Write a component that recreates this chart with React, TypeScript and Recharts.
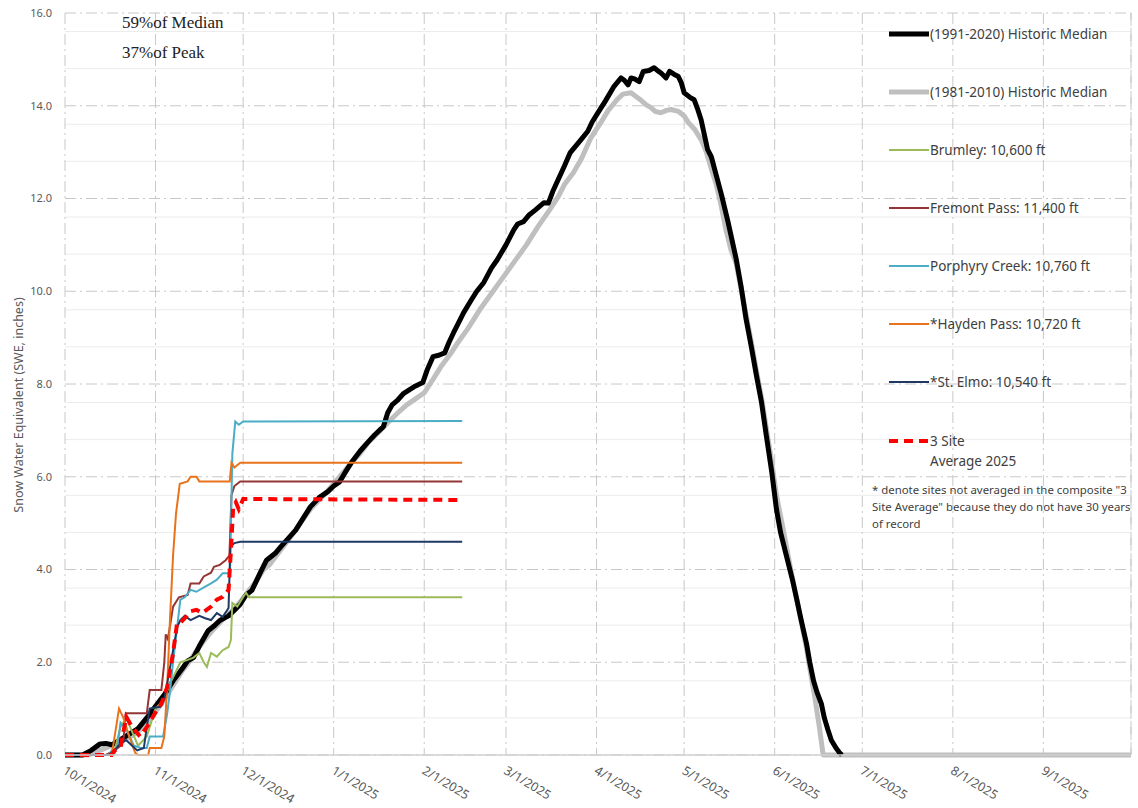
import React from 'react';
import {
  LineChart, Line, XAxis, YAxis, CartesianGrid, ReferenceLine,
} from 'recharts';

// x = days since 10/1/2024 (water year), y = SWE inches
const MONTH_DAYS = [0, 31, 61, 92, 123, 151, 182, 212, 243, 273, 304, 335];
const MONTH_LABELS = [
  '10/1/2024', '11/1/2024', '12/1/2024', '1/1/2025', '2/1/2025', '3/1/2025',
  '4/1/2025', '5/1/2025', '6/1/2025', '7/1/2025', '8/1/2025', '9/1/2025',
];
const Y_TICKS = [0, 2, 4, 6, 8, 10, 12, 14, 16];

const MEDIAN_1991_2020: [number, number][] = [
  [0, 0], [6, 0], [9, 0.1], [12, 0.24], [14, 0.25], [16, 0.22], [19, 0.33], [22, 0.45],
  [25, 0.57], [28, 0.8], [31, 1.05], [34, 1.3], [37, 1.6], [40, 1.85], [42, 2.03], [44, 2.1],
  [46, 2.35], [49, 2.68], [51, 2.78], [53, 2.9], [56, 3.0], [58, 3.12], [60, 3.25], [62, 3.45],
  [64, 3.55], [67, 3.95], [69, 4.2], [72, 4.35], [74, 4.5], [76, 4.64], [79, 4.85], [82, 5.15],
  [84, 5.35], [87, 5.55], [90, 5.68], [92, 5.8], [94, 5.89], [96, 6.1], [98, 6.3], [101, 6.55],
  [103.5, 6.73], [106, 6.9], [109, 7.08], [110.5, 7.38], [112, 7.55], [114, 7.66], [116, 7.8],
  [118, 7.88], [119.5, 7.94], [122.5, 8.03], [124, 8.3], [126, 8.59], [128, 8.62], [130, 8.67],
  [131.5, 8.9], [133, 9.1], [135, 9.35], [136.5, 9.54], [139, 9.8], [141, 10.0], [143.4, 10.19],
  [146, 10.5], [148, 10.68], [151, 11.0], [153.7, 11.33], [155, 11.45], [157, 11.5], [159, 11.65],
  [161, 11.75], [164, 11.91], [165.5, 11.9], [167, 12.15], [168.8, 12.4], [171, 12.7], [173, 12.99],
  [176.7, 13.27], [179, 13.45], [180.5, 13.65], [182.5, 13.85], [185, 14.1], [188, 14.42],
  [190.4, 14.6], [191.5, 14.55], [192.8, 14.45], [193.8, 14.6], [195, 14.58], [196.6, 14.52],
  [198, 14.74], [200, 14.76], [201.7, 14.82], [203, 14.75], [204, 14.71], [205.8, 14.6],
  [207, 14.74], [208.5, 14.68], [210, 14.63], [211, 14.5], [212, 14.28], [214, 14.18],
  [215.4, 14.13], [216.5, 13.95], [217.8, 13.7], [220, 13.06], [221.3, 12.9], [223, 12.5],
  [224.7, 12.1], [227, 11.5], [229.8, 10.7], [231.5, 10.1], [233.2, 9.4], [235, 8.8],
  [236.7, 8.2], [238.5, 7.6], [240.1, 6.9], [242, 6.1], [243.6, 5.3], [245, 4.8], [247, 4.3],
  [249, 3.8], [250.4, 3.4], [252.1, 2.9], [253.9, 2.4], [255, 2.0], [256.3, 1.6], [257.5, 1.35],
  [259, 1.1], [260, 0.8], [261.2, 0.55], [262.4, 0.32], [264, 0.15], [265.2, 0.05], [266, 0],
];

const MEDIAN_1981_2010: [number, number][] = [
  [0, 0], [8, 0], [12, 0.1], [15, 0.18], [18, 0.25], [21, 0.35], [25, 0.5], [28, 0.68],
  [30, 0.85], [33, 1.1], [35, 1.3], [38, 1.6], [40, 1.8], [43, 2.05], [45, 2.25], [48, 2.5],
  [50, 2.65], [53, 2.85], [55, 3.0], [58, 3.15], [60, 3.3], [63, 3.55], [65, 3.7], [68, 4.0],
  [70, 4.1], [73, 4.35], [76, 4.6], [80, 4.95], [84, 5.3], [87, 5.5], [90, 5.7], [94, 6.0],
  [98, 6.3], [101, 6.5], [104, 6.75], [108, 7.0], [111.5, 7.23], [114, 7.38], [117, 7.55],
  [120, 7.68], [123, 7.81], [126, 8.1], [129, 8.4], [132, 8.65], [134.5, 8.89], [138, 9.2],
  [142, 9.6], [146, 9.95], [150, 10.3], [154, 10.65], [158, 11.0], [162, 11.4], [166, 11.76],
  [169, 12.05], [171, 12.3], [174, 12.55], [176.7, 12.84], [180, 13.3], [183.5, 13.64],
  [186, 13.9], [189, 14.13], [191, 14.25], [193.8, 14.28], [195.5, 14.2], [197, 14.13],
  [199, 14.02], [200.7, 13.96], [202, 13.88], [204, 13.85], [206, 13.9], [207.5, 13.92],
  [210, 13.88], [212, 13.78], [213.4, 13.64], [215.5, 13.5], [217.8, 13.27], [219.6, 13.0],
  [221.5, 12.6], [223, 12.3], [224.5, 11.9], [226.4, 11.3], [228, 10.9], [229.8, 10.6],
  [231.5, 10.05], [233.2, 9.5], [235, 8.9], [236.7, 8.3], [238.5, 7.7], [240, 7.1], [242, 6.3],
  [243.6, 5.6], [245.5, 5.0], [247, 4.5], [248.5, 4.0], [250.4, 3.4], [252, 2.9], [253.9, 2.3],
  [255.2, 1.8], [256.6, 1.3], [258.3, 0.6], [259.6, 0], [365, 0],
];

const BRUMLEY: [number, number][] = [
  [0, 0], [16, 0], [17, 0.1], [19, 0.6], [21, 0.8], [23, 0.5], [25, 0.2], [28, 0.4], [31, 1.0],
  [34, 1.2], [36, 1.55], [38, 1.8], [39.5, 2.0], [42, 2.05], [44, 2.1], [46, 2.2], [47.5, 2.0],
  [48.6, 1.9], [50, 2.2], [52, 2.12], [54, 2.26], [56, 2.33], [56.8, 2.48], [57.3, 3.28],
  [59, 3.2], [61, 3.41], [62, 3.5], [63, 3.4], [136, 3.4],
];

const FREMONT: [number, number][] = [
  [0, 0], [14, 0], [17, 0.1], [19, 0.2], [20, 0.3], [20.8, 0.9], [28, 0.9], [29, 1.4], [33, 1.4],
  [34, 2.0], [34.5, 2.6], [35.2, 2.5], [36, 2.8], [37, 3.2], [39, 3.4], [42, 3.45], [43, 3.7],
  [46, 3.7], [47.5, 3.85], [50, 3.93], [51, 4.06], [53, 4.1], [55, 4.2], [56.3, 4.3], [57, 5.6],
  [58, 5.8], [60, 5.9], [136, 5.9],
];

const PORPHYRY: [number, number][] = [
  [0, 0], [15, 0], [16, 0.1], [17, 0.05], [18, 0.2], [19, 0.7], [21, 0.55], [23.6, 0.2],
  [26, 0.15], [28, 0.15], [29, 0.4], [33.6, 0.4], [35, 0.9], [36, 1.4], [37, 2.0], [38.4, 2.76],
  [39.5, 3.35], [41, 3.4], [43, 3.56], [45, 3.52], [48, 3.63], [50, 3.7], [52, 3.78], [54, 3.92],
  [56.5, 3.92], [57.3, 6.5], [58.3, 7.19], [59.5, 7.12], [61, 7.19], [136, 7.2],
];

const HAYDEN: [number, number][] = [
  [0, 0], [16, 0], [17, 0.4], [18.5, 1.0], [20, 0.8], [22, 0.4], [24, 0.05], [25, 0],
  [28.5, 0], [29, 0.15], [33, 0.15], [34, 0.4], [35, 1.5], [36, 3.0], [37, 4.3], [38, 5.2],
  [39.3, 5.85], [42, 5.9], [43, 6.0], [45, 6.0], [46, 5.9], [56.4, 5.9], [57, 6.3], [58, 6.2],
  [60, 6.3], [136, 6.3],
];

const ST_ELMO: [number, number][] = [
  [0, 0], [15, 0], [17, 0.1], [19, 0.25], [21, 0.32], [23, 0.2], [24.7, 0.1], [27, 0.15],
  [28, 0.6], [29, 1.0], [32.6, 1.04], [34, 1.2], [36, 1.9], [38.4, 2.76], [39.5, 2.91], [41, 3.0],
  [43, 2.91], [46, 3.0], [48, 2.95], [50, 2.91], [52, 3.06], [54, 2.98], [56, 3.17], [56.6, 4.49],
  [58, 4.57], [60, 4.6], [136, 4.6],
];

const SITE_AVG: [number, number][] = [
  [0, 0], [16, 0], [17, 0.1], [19, 0.15], [20, 0.5], [21, 0.82], [23, 0.6], [25.7, 0.4],
  [28, 0.6], [31.5, 0.97], [33, 1.1], [35, 1.47], [37, 2.2], [38.4, 2.85], [39.5, 2.85],
  [41, 2.95], [43, 3.1], [45, 3.13], [47, 3.06], [50, 3.2], [52, 3.35], [54, 3.41], [56, 3.56],
  [56.8, 4.4], [57.6, 5.35], [58.5, 5.45], [59.5, 5.3], [61, 5.52], [136, 5.5],
];

const toPts = (arr: [number, number][]) => arr.map(([d, v]) => ({ d, v }));

const MINOR_Y = Array.from({ length: 41 }, (_, i) => +(i * 0.4).toFixed(1)).filter(v => v % 2 !== 0);

const TEXT = '#595959';
const FONT = '"Noto Sans", sans-serif';

const SERIES = [
  { name: '(1991-2020) Historic Median', color: '#000000', width: 5, dash: undefined as string | undefined },
  { name: '(1981-2010) Historic Median', color: '#BFBFBF', width: 5, dash: undefined },
  { name: 'Brumley: 10,600 ft', color: '#9BBB59', width: 2, dash: undefined },
  { name: 'Fremont Pass: 11,400 ft', color: '#943634', width: 2, dash: undefined },
  { name: 'Porphyry Creek: 10,760 ft', color: '#4BACC6', width: 2, dash: undefined },
  { name: '*Hayden Pass: 10,720 ft', color: '#E8731C', width: 2, dash: undefined },
  { name: '*St. Elmo: 10,540 ft', color: '#1F3864', width: 2, dash: undefined },
  { name: '3 Site\nAverage 2025', color: '#FF0000', width: 4, dash: '9 6' },
];

const LEGEND_TOP = [34, 92, 150, 208, 266, 324, 382, 441];

function MonthTick({ x, y, payload }: any) {
  const idx = MONTH_DAYS.indexOf(payload.value);
  const tx = x - 3;
  const ty = y + 10;
  return (
    <text
      x={tx}
      y={ty}
      transform={`rotate(31, ${tx}, ${ty})`}
      textAnchor="start"
      fontSize={12.5}
      fill={TEXT}
      fontFamily={FONT}
    >
      {MONTH_LABELS[idx]}
    </text>
  );
}

export default function App() {
  const gridDash = '11 4 2 4';
  return (
    <div style={{ position: 'absolute', left: 0, top: 0, width: 1138, height: 808, background: '#fff', fontFamily: FONT }}>
      <LineChart width={1138} height={808} margin={{ top: 13, right: 7, left: 0, bottom: 13 }}>
        <CartesianGrid horizontalValues={MINOR_Y} vertical={false} stroke="#ECECEC" />
        <CartesianGrid stroke="#C8C8C8" strokeDasharray={gridDash} />
        <ReferenceLine x={365} stroke="#C8C8C8" strokeDasharray={gridDash} />
        <XAxis
          dataKey="d"
          type="number"
          domain={[0, 365]}
          ticks={MONTH_DAYS}
          interval={0}
          tick={<MonthTick />}
          tickLine={false}
          axisLine={{ stroke: '#D0D0D0', strokeWidth: 1.5 }}
          height={40}
          allowDataOverflow
        />
        <YAxis
          type="number"
          domain={[0, 16]}
          ticks={Y_TICKS}
          tickFormatter={(v: number) => v.toFixed(1)}
          tick={{ fontSize: 11, fill: TEXT, fontFamily: FONT }}
          axisLine={false}
          tickLine={false}
          tickMargin={7}
          width={65}
        />
        <Line data={toPts(MEDIAN_1981_2010)} dataKey="v" type="linear" dot={false} stroke="#BFBFBF" strokeWidth={5} strokeLinejoin="round" isAnimationActive={false} />
        <Line data={toPts(MEDIAN_1991_2020)} dataKey="v" type="linear" dot={false} stroke="#000000" strokeWidth={5} strokeLinejoin="round" isAnimationActive={false} />
        <Line data={toPts(BRUMLEY)} dataKey="v" type="linear" dot={false} stroke="#9BBB59" strokeWidth={2} isAnimationActive={false} />
        <Line data={toPts(FREMONT)} dataKey="v" type="linear" dot={false} stroke="#943634" strokeWidth={2} isAnimationActive={false} />
        <Line data={toPts(PORPHYRY)} dataKey="v" type="linear" dot={false} stroke="#4BACC6" strokeWidth={2} isAnimationActive={false} />
        <Line data={toPts(HAYDEN)} dataKey="v" type="linear" dot={false} stroke="#E8731C" strokeWidth={2} isAnimationActive={false} />
        <Line data={toPts(ST_ELMO)} dataKey="v" type="linear" dot={false} stroke="#1F3864" strokeWidth={2} isAnimationActive={false} />
        <Line data={toPts(SITE_AVG)} dataKey="v" type="linear" dot={false} stroke="#FF0000" strokeWidth={4} strokeDasharray="9 6" isAnimationActive={false} />
      </LineChart>

      {/* y axis title */}
      <div style={{
        position: 'absolute', left: 18, top: 405, transform: 'translate(-50%, -50%) rotate(-90deg)',
        whiteSpace: 'nowrap', fontSize: 12.5, color: TEXT,
      }}>
        Snow Water Equivalent (SWE, inches)
      </div>

      {/* notes at top left */}
      <div style={{ position: 'absolute', left: 122, top: 13, fontFamily: '"Liberation Serif", serif', fontSize: 17, color: '#222' }}>59%of Median</div>
      <div style={{ position: 'absolute', left: 122, top: 43, fontFamily: '"Liberation Serif", serif', fontSize: 17, color: '#222' }}>37%of Peak</div>

      {/* legend */}
      {SERIES.map((s, i) => (
        <div key={s.name} style={{ position: 'absolute', left: 888, top: LEGEND_TOP[i] - 10, display: 'flex', alignItems: 'flex-start' }}>
          <svg width={42} height={20} style={{ flexShrink: 0 }}>
            <line x1={1} y1={10} x2={41} y2={10} stroke={s.color} strokeWidth={s.width} strokeDasharray={s.dash} />
          </svg>
          <div style={{ fontSize: 13.5, color: '#404040', lineHeight: '20px', whiteSpace: 'pre' }}>{s.name}</div>
        </div>
      ))}
      <div style={{ position: 'absolute', left: 872, top: 481, width: 266, fontSize: 11.4, lineHeight: '17px', color: '#404040' }}>
        * denote sites not averaged in the composite "3 Site Average" because they do not have 30 years of record
      </div>
    </div>
  );
}
